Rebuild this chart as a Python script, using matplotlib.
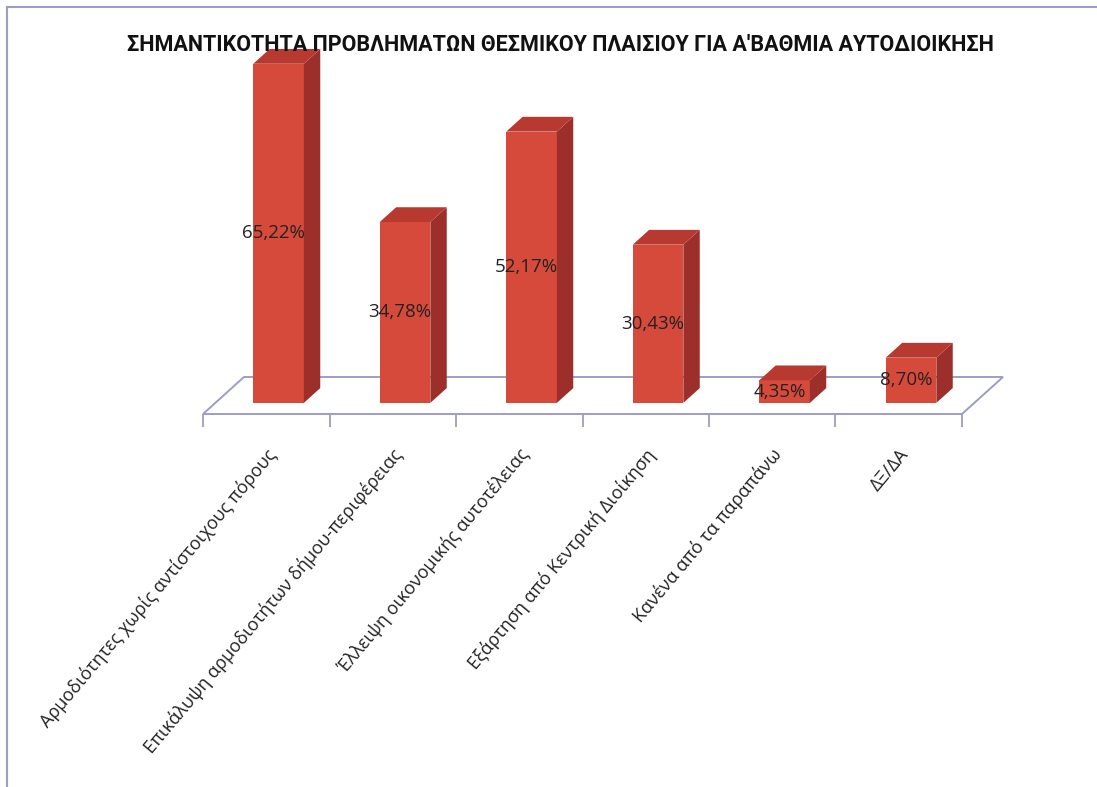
import numpy as np
import matplotlib
matplotlib.use("Agg")
import matplotlib.pyplot as plt
from matplotlib.patches import Polygon

# data
categories = [
    "Αρμοδιότητες χωρίς αντίστοιχους πόρους",
    "Επικάλυψη αρμοδιοτήτων δήμου-περιφέρειας",
    "Έλλειψη οικονομικής αυτοτέλειας",
    "Εξάρτηση από Κεντρική Διοίκηση",
    "Κανένα από τα παραπάνω",
    "ΔΞ/ΔΑ",
]
values = [65.22, 34.78, 52.17, 30.43, 4.35, 8.70]
title = "ΣΗΜΑΝΤΙΚΟΤΗΤΑ ΠΡΟΒΛΗΜΑΤΩΝ ΘΕΣΜΙΚΟΥ ΠΛΑΙΣΙΟΥ ΓΙΑ Α'ΒΑΘΜΙΑ ΑΥΤΟΔΙΟΙΚΗΣΗ"

front_c = "#d64a3b"
side_c = "#9c2f29"
top_c = "#b7392f"
line_c = "#9d9dc6"
txt_font = ["Open Sans", "DejaVu Sans"]

W, H = 1097, 787
fig = plt.figure(figsize=(W / 100, H / 100), dpi=100)
fig.patch.set_facecolor("white")

# axes: x -0.5..5.5 spans the floor front edge, y in percent
ax = fig.add_axes([203 / W, (H - 414) / H, 759 / W, 390 / H])
ax.set_xlim(-0.5, 5.5)
ax.set_ylim(0, 75)
ax.patch.set_alpha(0)
for s in ax.spines.values():
    s.set_visible(False)

px_x = 759 / 6.0
px_y = 390 / 75.0
DX = 41 / px_x   # full floor depth offset
DY = 37 / px_y

n = len(values)
x = np.arange(n)

# floor
floor = Polygon([(-0.5, 0), (n - 0.5, 0), (n - 0.5 + DX, DY), (-0.5 + DX, DY)],
                closed=True, facecolor="white", edgecolor=line_c, lw=1.4,
                clip_on=False, zorder=1)
ax.add_patch(floor)

ax.set_xticks(np.arange(n + 1) - 0.5)
ax.set_xticklabels([])
ax.tick_params(axis="x", length=9, width=1.3, color=line_c, direction="out")
ax.set_yticks([])

# 3d-looking bars
d0, d1 = 0.3, 0.4
bw = 0.4
xs = x + d0 * DX
b0 = d0 * DY
ddx, ddy = d1 * DX, d1 * DY
ax.bar(xs, values, width=bw, bottom=b0, color=front_c, zorder=3, clip_on=False)
for xi, v in zip(xs, values):
    r = xi + bw / 2
    l = xi - bw / 2
    top = b0 + v
    ax.add_patch(Polygon([(r, b0), (r + ddx, b0 + ddy), (r + ddx, top + ddy), (r, top)],
                         facecolor=side_c, edgecolor="none", zorder=3, clip_on=False))
    ax.add_patch(Polygon([(l, top), (r, top), (r + ddx, top + ddy), (l + ddx, top + ddy)],
                         facecolor=top_c, edgecolor="none", zorder=3, clip_on=False))
    ax.text(xi - 0.04, b0 + v / 2, f"{v:.2f}".replace(".", ",") + "%", ha="center", va="center",
            fontsize=13.5, color="#222222", family=txt_font, zorder=5)

# category labels
for i, c in enumerate(categories):
    ax.text(i + 0.05, -7.2, c, rotation=50, rotation_mode="anchor", ha="right", va="center",
            fontsize=13, color="#222222", family=txt_font, clip_on=False)

fig.text(560 / W, 1 - 45 / H, title, ha="center", va="center", fontsize=15.5,
         fontweight="bold", color="#111111",
         family=["Liberation Sans Narrow", "Roboto", "DejaVu Sans"])

# frame lines (top and left)
fig.add_artist(plt.Line2D([7 / W, 1], [1 - 7 / H, 1 - 7 / H], color=line_c, lw=1.5))
fig.add_artist(plt.Line2D([7 / W, 7 / W], [0, 1 - 7 / H], color=line_c, lw=1.5))

fig.savefig("out.png", dpi=100)
